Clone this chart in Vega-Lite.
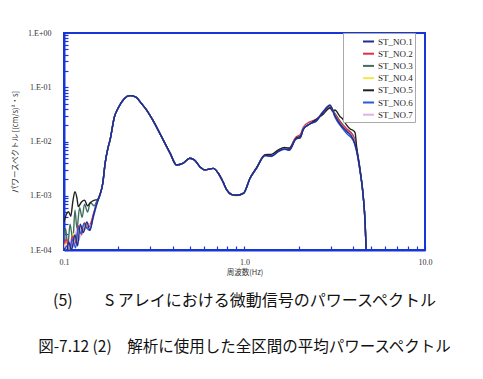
{
"$schema": "https://vega.github.io/schema/vega-lite/v6.json",
"autosize": {"type": "none"},
"padding": {"left": 64, "top": 33, "right": 58, "bottom": 129},
"width": 361,
"height": 217,
"background": "white",
"title": {"text": "(5)　　S アレイにおける微動信号のパワースペクトル", "subtitle": "\u00a0\u00a0\u00a0\u00a0\u00a0\u00a0\u00a0\u00a0\u00a0図-7.12 (2)　解析に使用した全区間の平均パワースペクトル", "orient": "bottom", "anchor": "middle", "font": "Noto Sans CJK JP", "fontSize": 16, "fontWeight": "normal", "color": "#111", "subtitleFont": "Noto Sans CJK JP", "subtitleFontSize": 15.5, "subtitleColor": "#111", "subtitlePadding": 31, "offset": 17},
"datasets": {
"spec": [
{"s":"ST_NO.3","f":0.1,"p":1.5e-4},{"s":"ST_NO.3","f":0.102,"p":2.5e-4},{"s":"ST_NO.3","f":0.105,"p":1.2e-4},{"s":"ST_NO.3","f":0.108,"p":3.0e-4},{"s":"ST_NO.3","f":0.112,"p":1.5e-4},{"s":"ST_NO.3","f":0.115,"p":5.4e-4},{"s":"ST_NO.3","f":0.118,"p":2.5e-4},{"s":"ST_NO.3","f":0.122,"p":6.0e-4},{"s":"ST_NO.3","f":0.126,"p":4.0e-4},{"s":"ST_NO.3","f":0.13,"p":7.0e-4},{"s":"ST_NO.3","f":0.135,"p":5.0e-4},{"s":"ST_NO.3","f":0.14,"p":7.5e-4},{"s":"ST_NO.3","f":0.147,"p":6.5e-4},{"s":"ST_NO.3","f":0.152,"p":8.0e-4},
{"s":"ST_NO.3","f":0.158,"p":1.03e-3},{"s":"ST_NO.3","f":0.164,"p":1.7e-3},{"s":"ST_NO.3","f":0.169,"p":4.0e-3},{"s":"ST_NO.3","f":0.175,"p":7.5e-3},{"s":"ST_NO.3","f":0.18,"p":1.07e-2},{"s":"ST_NO.3","f":0.19,"p":2.8e-2},{"s":"ST_NO.3","f":0.2,"p":4.2e-2},{"s":"ST_NO.3","f":0.215,"p":6.1e-2},{"s":"ST_NO.3","f":0.232,"p":7.0e-2},{"s":"ST_NO.3","f":0.25,"p":6.6e-2},{"s":"ST_NO.3","f":0.27,"p":4.9e-2},{"s":"ST_NO.3","f":0.287,"p":3.8e-2},{"s":"ST_NO.3","f":0.31,"p":2.5e-2},{"s":"ST_NO.3","f":0.34,"p":1.4e-2},{"s":"ST_NO.3","f":0.387,"p":6.1e-3},{"s":"ST_NO.3","f":0.42,"p":3.7e-3},{"s":"ST_NO.3","f":0.458,"p":4.0e-3},{"s":"ST_NO.3","f":0.498,"p":4.9e-3},{"s":"ST_NO.3","f":0.53,"p":4.5e-3},{"s":"ST_NO.3","f":0.567,"p":3.4e-3},{"s":"ST_NO.3","f":0.605,"p":3.0e-3},{"s":"ST_NO.3","f":0.671,"p":3.2e-3},{"s":"ST_NO.3","f":0.716,"p":2.6e-3},{"s":"ST_NO.3","f":0.76,"p":1.8e-3},{"s":"ST_NO.3","f":0.797,"p":1.28e-3},{"s":"ST_NO.3","f":0.85,"p":1.05e-3},{"s":"ST_NO.3","f":0.905,"p":1.02e-3},{"s":"ST_NO.3","f":0.99,"p":1.12e-3},{"s":"ST_NO.3","f":1.073,"p":2.1e-3},{"s":"ST_NO.3","f":1.165,"p":3.2e-3},{"s":"ST_NO.3","f":1.3,"p":5.6e-3},{"s":"ST_NO.3","f":1.41,"p":5.6e-3},{"s":"ST_NO.3","f":1.54,"p":6.8e-3},{"s":"ST_NO.3","f":1.666,"p":7.5e-3},{"s":"ST_NO.3","f":1.77,"p":7.2e-3},{"s":"ST_NO.3","f":1.924,"p":1.15e-2},{"s":"ST_NO.3","f":2.04,"p":1.22e-2},{"s":"ST_NO.3","f":2.12,"p":1.75e-2},{"s":"ST_NO.3","f":2.3,"p":2.17e-2},{"s":"ST_NO.3","f":2.51,"p":2.5e-2},{"s":"ST_NO.3","f":2.73,"p":3.55e-2},{"s":"ST_NO.3","f":2.98,"p":4.3e-2},{"s":"ST_NO.3","f":3.17,"p":3.3e-2},{"s":"ST_NO.3","f":3.38,"p":2.4e-2},{"s":"ST_NO.3","f":3.68,"p":1.7e-2},{"s":"ST_NO.3","f":4.0,"p":1.3e-2},{"s":"ST_NO.3","f":4.18,"p":7e-3},{"s":"ST_NO.3","f":4.36,"p":3e-3},{"s":"ST_NO.3","f":4.55,"p":9.6e-4},{"s":"ST_NO.3","f":4.66,"p":3.1e-4},{"s":"ST_NO.3","f":4.72,"p":1e-4},{"s":"ST_NO.3","f":4.75,"p":5e-5},
{"s":"ST_NO.4","f":0.1,"p":1.0e-4},{"s":"ST_NO.4","f":0.104,"p":1.4e-4},{"s":"ST_NO.4","f":0.108,"p":1.0e-4},{"s":"ST_NO.4","f":0.113,"p":2.0e-4},{"s":"ST_NO.4","f":0.118,"p":1.4e-4},{"s":"ST_NO.4","f":0.122,"p":2.7e-4},{"s":"ST_NO.4","f":0.127,"p":2.2e-4},{"s":"ST_NO.4","f":0.132,"p":3.0e-4},{"s":"ST_NO.4","f":0.137,"p":2.7e-4},{"s":"ST_NO.4","f":0.142,"p":3.3e-4},{"s":"ST_NO.4","f":0.148,"p":5.0e-4},{"s":"ST_NO.4","f":0.153,"p":7.7e-4},
{"s":"ST_NO.4","f":0.158,"p":1.03e-3},{"s":"ST_NO.4","f":0.164,"p":1.7e-3},{"s":"ST_NO.4","f":0.169,"p":4.0e-3},{"s":"ST_NO.4","f":0.175,"p":7.5e-3},{"s":"ST_NO.4","f":0.18,"p":1.07e-2},{"s":"ST_NO.4","f":0.19,"p":2.8e-2},{"s":"ST_NO.4","f":0.2,"p":4.2e-2},{"s":"ST_NO.4","f":0.215,"p":6.1e-2},{"s":"ST_NO.4","f":0.232,"p":7.0e-2},{"s":"ST_NO.4","f":0.25,"p":6.6e-2},{"s":"ST_NO.4","f":0.27,"p":4.9e-2},{"s":"ST_NO.4","f":0.287,"p":3.8e-2},{"s":"ST_NO.4","f":0.31,"p":2.5e-2},{"s":"ST_NO.4","f":0.34,"p":1.4e-2},{"s":"ST_NO.4","f":0.387,"p":6.1e-3},{"s":"ST_NO.4","f":0.42,"p":3.7e-3},{"s":"ST_NO.4","f":0.458,"p":4.0e-3},{"s":"ST_NO.4","f":0.498,"p":4.9e-3},{"s":"ST_NO.4","f":0.53,"p":4.5e-3},{"s":"ST_NO.4","f":0.567,"p":3.4e-3},{"s":"ST_NO.4","f":0.605,"p":3.0e-3},{"s":"ST_NO.4","f":0.671,"p":3.2e-3},{"s":"ST_NO.4","f":0.716,"p":2.6e-3},{"s":"ST_NO.4","f":0.76,"p":1.8e-3},{"s":"ST_NO.4","f":0.797,"p":1.28e-3},{"s":"ST_NO.4","f":0.85,"p":1.05e-3},{"s":"ST_NO.4","f":0.905,"p":1.0e-3},{"s":"ST_NO.4","f":0.99,"p":1.12e-3},{"s":"ST_NO.4","f":1.073,"p":2.1e-3},{"s":"ST_NO.4","f":1.165,"p":3.2e-3},{"s":"ST_NO.4","f":1.3,"p":5.6e-3},{"s":"ST_NO.4","f":1.41,"p":5.6e-3},{"s":"ST_NO.4","f":1.54,"p":6.8e-3},{"s":"ST_NO.4","f":1.666,"p":7.5e-3},{"s":"ST_NO.4","f":1.77,"p":7.2e-3},{"s":"ST_NO.4","f":1.924,"p":1.15e-2},{"s":"ST_NO.4","f":2.04,"p":1.22e-2},{"s":"ST_NO.4","f":2.12,"p":1.75e-2},{"s":"ST_NO.4","f":2.3,"p":2.17e-2},{"s":"ST_NO.4","f":2.51,"p":2.5e-2},{"s":"ST_NO.4","f":2.73,"p":3.55e-2},{"s":"ST_NO.4","f":2.98,"p":4.4e-2},{"s":"ST_NO.4","f":3.17,"p":3.1e-2},{"s":"ST_NO.4","f":3.38,"p":2.2e-2},{"s":"ST_NO.4","f":3.68,"p":1.63e-2},{"s":"ST_NO.4","f":4.0,"p":1.2e-2},{"s":"ST_NO.4","f":4.18,"p":7e-3},{"s":"ST_NO.4","f":4.36,"p":3e-3},{"s":"ST_NO.4","f":4.55,"p":9.6e-4},{"s":"ST_NO.4","f":4.66,"p":3.1e-4},{"s":"ST_NO.4","f":4.72,"p":1e-4},{"s":"ST_NO.4","f":4.75,"p":5e-5},
{"s":"ST_NO.2","f":0.1,"p":1.2e-4},{"s":"ST_NO.2","f":0.103,"p":1.6e-4},{"s":"ST_NO.2","f":0.107,"p":9e-5},{"s":"ST_NO.2","f":0.111,"p":1.8e-4},{"s":"ST_NO.2","f":0.115,"p":1.3e-4},{"s":"ST_NO.2","f":0.12,"p":2.8e-4},{"s":"ST_NO.2","f":0.125,"p":1.9e-4},{"s":"ST_NO.2","f":0.13,"p":3.2e-4},{"s":"ST_NO.2","f":0.135,"p":2.6e-4},{"s":"ST_NO.2","f":0.14,"p":3.0e-4},{"s":"ST_NO.2","f":0.146,"p":4.8e-4},{"s":"ST_NO.2","f":0.153,"p":7.8e-4},
{"s":"ST_NO.2","f":0.158,"p":1.03e-3},{"s":"ST_NO.2","f":0.164,"p":1.7e-3},{"s":"ST_NO.2","f":0.169,"p":4.0e-3},{"s":"ST_NO.2","f":0.175,"p":7.5e-3},{"s":"ST_NO.2","f":0.18,"p":1.07e-2},{"s":"ST_NO.2","f":0.19,"p":2.8e-2},{"s":"ST_NO.2","f":0.2,"p":4.2e-2},{"s":"ST_NO.2","f":0.215,"p":6.1e-2},{"s":"ST_NO.2","f":0.232,"p":7.0e-2},{"s":"ST_NO.2","f":0.25,"p":6.6e-2},{"s":"ST_NO.2","f":0.27,"p":4.9e-2},{"s":"ST_NO.2","f":0.287,"p":3.8e-2},{"s":"ST_NO.2","f":0.31,"p":2.5e-2},{"s":"ST_NO.2","f":0.34,"p":1.4e-2},{"s":"ST_NO.2","f":0.387,"p":6.1e-3},{"s":"ST_NO.2","f":0.42,"p":3.7e-3},{"s":"ST_NO.2","f":0.458,"p":4.0e-3},{"s":"ST_NO.2","f":0.498,"p":4.9e-3},{"s":"ST_NO.2","f":0.53,"p":4.5e-3},{"s":"ST_NO.2","f":0.567,"p":3.4e-3},{"s":"ST_NO.2","f":0.605,"p":3.0e-3},{"s":"ST_NO.2","f":0.671,"p":3.2e-3},{"s":"ST_NO.2","f":0.716,"p":2.6e-3},{"s":"ST_NO.2","f":0.76,"p":1.8e-3},{"s":"ST_NO.2","f":0.797,"p":1.28e-3},{"s":"ST_NO.2","f":0.85,"p":1.05e-3},{"s":"ST_NO.2","f":0.905,"p":1.02e-3},{"s":"ST_NO.2","f":0.99,"p":1.12e-3},{"s":"ST_NO.2","f":1.073,"p":2.1e-3},{"s":"ST_NO.2","f":1.165,"p":3.2e-3},{"s":"ST_NO.2","f":1.3,"p":5.6e-3},{"s":"ST_NO.2","f":1.41,"p":5.6e-3},{"s":"ST_NO.2","f":1.54,"p":6.8e-3},{"s":"ST_NO.2","f":1.666,"p":7.6e-3},{"s":"ST_NO.2","f":1.77,"p":7.6e-3},{"s":"ST_NO.2","f":1.924,"p":1.2e-2},{"s":"ST_NO.2","f":2.04,"p":1.35e-2},{"s":"ST_NO.2","f":2.12,"p":1.85e-2},{"s":"ST_NO.2","f":2.3,"p":2.3e-2},{"s":"ST_NO.2","f":2.51,"p":2.6e-2},{"s":"ST_NO.2","f":2.73,"p":3.5e-2},{"s":"ST_NO.2","f":2.98,"p":4.1e-2},{"s":"ST_NO.2","f":3.17,"p":3.2e-2},{"s":"ST_NO.2","f":3.38,"p":2.3e-2},{"s":"ST_NO.2","f":3.68,"p":1.7e-2},{"s":"ST_NO.2","f":4.0,"p":1.25e-2},{"s":"ST_NO.2","f":4.18,"p":7.5e-3},{"s":"ST_NO.2","f":4.36,"p":3.1e-3},{"s":"ST_NO.2","f":4.55,"p":9.6e-4},{"s":"ST_NO.2","f":4.66,"p":3.1e-4},{"s":"ST_NO.2","f":4.72,"p":1e-4},{"s":"ST_NO.2","f":4.75,"p":5e-5},
{"s":"ST_NO.7","f":0.1,"p":1.3e-4},{"s":"ST_NO.7","f":0.104,"p":9e-5},{"s":"ST_NO.7","f":0.108,"p":1.5e-4},{"s":"ST_NO.7","f":0.112,"p":1.1e-4},{"s":"ST_NO.7","f":0.117,"p":2.2e-4},{"s":"ST_NO.7","f":0.121,"p":1.5e-4},{"s":"ST_NO.7","f":0.126,"p":2.8e-4},{"s":"ST_NO.7","f":0.131,"p":2.4e-4},{"s":"ST_NO.7","f":0.136,"p":3.1e-4},{"s":"ST_NO.7","f":0.141,"p":2.8e-4},{"s":"ST_NO.7","f":0.147,"p":4.5e-4},{"s":"ST_NO.7","f":0.153,"p":7.6e-4},
{"s":"ST_NO.7","f":0.158,"p":1.03e-3},{"s":"ST_NO.7","f":0.164,"p":1.7e-3},{"s":"ST_NO.7","f":0.169,"p":4.0e-3},{"s":"ST_NO.7","f":0.175,"p":7.5e-3},{"s":"ST_NO.7","f":0.18,"p":1.07e-2},{"s":"ST_NO.7","f":0.19,"p":2.8e-2},{"s":"ST_NO.7","f":0.2,"p":4.2e-2},{"s":"ST_NO.7","f":0.215,"p":6.1e-2},{"s":"ST_NO.7","f":0.232,"p":7.0e-2},{"s":"ST_NO.7","f":0.25,"p":6.6e-2},{"s":"ST_NO.7","f":0.27,"p":4.9e-2},{"s":"ST_NO.7","f":0.287,"p":3.8e-2},{"s":"ST_NO.7","f":0.31,"p":2.5e-2},{"s":"ST_NO.7","f":0.34,"p":1.4e-2},{"s":"ST_NO.7","f":0.387,"p":6.1e-3},{"s":"ST_NO.7","f":0.42,"p":3.7e-3},{"s":"ST_NO.7","f":0.458,"p":4.0e-3},{"s":"ST_NO.7","f":0.498,"p":4.9e-3},{"s":"ST_NO.7","f":0.53,"p":4.5e-3},{"s":"ST_NO.7","f":0.567,"p":3.4e-3},{"s":"ST_NO.7","f":0.605,"p":3.0e-3},{"s":"ST_NO.7","f":0.671,"p":3.2e-3},{"s":"ST_NO.7","f":0.716,"p":2.6e-3},{"s":"ST_NO.7","f":0.76,"p":1.8e-3},{"s":"ST_NO.7","f":0.797,"p":1.28e-3},{"s":"ST_NO.7","f":0.85,"p":1.05e-3},{"s":"ST_NO.7","f":0.905,"p":1.02e-3},{"s":"ST_NO.7","f":0.99,"p":1.12e-3},{"s":"ST_NO.7","f":1.073,"p":2.1e-3},{"s":"ST_NO.7","f":1.165,"p":3.2e-3},{"s":"ST_NO.7","f":1.3,"p":5.6e-3},{"s":"ST_NO.7","f":1.41,"p":5.6e-3},{"s":"ST_NO.7","f":1.54,"p":6.8e-3},{"s":"ST_NO.7","f":1.666,"p":7.5e-3},{"s":"ST_NO.7","f":1.77,"p":7.2e-3},{"s":"ST_NO.7","f":1.924,"p":1.15e-2},{"s":"ST_NO.7","f":2.04,"p":1.22e-2},{"s":"ST_NO.7","f":2.12,"p":1.75e-2},{"s":"ST_NO.7","f":2.3,"p":2.17e-2},{"s":"ST_NO.7","f":2.51,"p":2.5e-2},{"s":"ST_NO.7","f":2.73,"p":3.55e-2},{"s":"ST_NO.7","f":2.98,"p":4.5e-2},{"s":"ST_NO.7","f":3.17,"p":3.0e-2},{"s":"ST_NO.7","f":3.38,"p":2.1e-2},{"s":"ST_NO.7","f":3.68,"p":1.55e-2},{"s":"ST_NO.7","f":4.0,"p":1.15e-2},{"s":"ST_NO.7","f":4.18,"p":7e-3},{"s":"ST_NO.7","f":4.36,"p":3e-3},{"s":"ST_NO.7","f":4.55,"p":9.6e-4},{"s":"ST_NO.7","f":4.66,"p":3.1e-4},{"s":"ST_NO.7","f":4.72,"p":1e-4},{"s":"ST_NO.7","f":4.75,"p":5e-5},
{"s":"ST_NO.5","f":0.1,"p":3.3e-4},{"s":"ST_NO.5","f":0.103,"p":4.5e-4},{"s":"ST_NO.5","f":0.106,"p":5.1e-4},{"s":"ST_NO.5","f":0.109,"p":4.2e-4},{"s":"ST_NO.5","f":0.112,"p":8.0e-4},{"s":"ST_NO.5","f":0.115,"p":1.19e-3},{"s":"ST_NO.5","f":0.118,"p":9.0e-4},{"s":"ST_NO.5","f":0.12,"p":6.3e-4},{"s":"ST_NO.5","f":0.125,"p":7.7e-4},{"s":"ST_NO.5","f":0.13,"p":8.3e-4},{"s":"ST_NO.5","f":0.135,"p":6.5e-4},{"s":"ST_NO.5","f":0.139,"p":7.3e-4},{"s":"ST_NO.5","f":0.144,"p":8.0e-4},{"s":"ST_NO.5","f":0.148,"p":8.3e-4},{"s":"ST_NO.5","f":0.153,"p":8.5e-4},
{"s":"ST_NO.5","f":0.158,"p":1.03e-3},{"s":"ST_NO.5","f":0.164,"p":1.7e-3},{"s":"ST_NO.5","f":0.169,"p":4.0e-3},{"s":"ST_NO.5","f":0.175,"p":7.5e-3},{"s":"ST_NO.5","f":0.18,"p":1.07e-2},{"s":"ST_NO.5","f":0.19,"p":2.8e-2},{"s":"ST_NO.5","f":0.2,"p":4.2e-2},{"s":"ST_NO.5","f":0.215,"p":6.1e-2},{"s":"ST_NO.5","f":0.232,"p":7.0e-2},{"s":"ST_NO.5","f":0.25,"p":6.6e-2},{"s":"ST_NO.5","f":0.27,"p":4.9e-2},{"s":"ST_NO.5","f":0.287,"p":3.8e-2},{"s":"ST_NO.5","f":0.31,"p":2.5e-2},{"s":"ST_NO.5","f":0.34,"p":1.4e-2},{"s":"ST_NO.5","f":0.387,"p":6.1e-3},{"s":"ST_NO.5","f":0.42,"p":3.7e-3},{"s":"ST_NO.5","f":0.458,"p":4.0e-3},{"s":"ST_NO.5","f":0.498,"p":4.9e-3},{"s":"ST_NO.5","f":0.53,"p":4.5e-3},{"s":"ST_NO.5","f":0.567,"p":3.4e-3},{"s":"ST_NO.5","f":0.605,"p":3.0e-3},{"s":"ST_NO.5","f":0.671,"p":3.2e-3},{"s":"ST_NO.5","f":0.716,"p":2.6e-3},{"s":"ST_NO.5","f":0.76,"p":1.8e-3},{"s":"ST_NO.5","f":0.797,"p":1.28e-3},{"s":"ST_NO.5","f":0.85,"p":1.05e-3},{"s":"ST_NO.5","f":0.905,"p":1.02e-3},{"s":"ST_NO.5","f":0.99,"p":1.12e-3},{"s":"ST_NO.5","f":1.073,"p":2.1e-3},{"s":"ST_NO.5","f":1.165,"p":3.3e-3},{"s":"ST_NO.5","f":1.3,"p":5.7e-3},{"s":"ST_NO.5","f":1.41,"p":5.8e-3},{"s":"ST_NO.5","f":1.54,"p":7.0e-3},{"s":"ST_NO.5","f":1.666,"p":7.8e-3},{"s":"ST_NO.5","f":1.77,"p":7.5e-3},{"s":"ST_NO.5","f":1.924,"p":1.15e-2},{"s":"ST_NO.5","f":2.04,"p":1.25e-2},{"s":"ST_NO.5","f":2.12,"p":1.7e-2},{"s":"ST_NO.5","f":2.3,"p":2.1e-2},{"s":"ST_NO.5","f":2.51,"p":2.6e-2},{"s":"ST_NO.5","f":2.73,"p":3.2e-2},{"s":"ST_NO.5","f":2.98,"p":4.2e-2},{"s":"ST_NO.5","f":3.08,"p":3.6e-2},{"s":"ST_NO.5","f":3.17,"p":3.8e-2},{"s":"ST_NO.5","f":3.38,"p":2.9e-2},{"s":"ST_NO.5","f":3.5,"p":2.6e-2},{"s":"ST_NO.5","f":3.68,"p":2.0e-2},{"s":"ST_NO.5","f":3.85,"p":1.7e-2},{"s":"ST_NO.5","f":4.0,"p":1.6e-2},{"s":"ST_NO.5","f":4.1,"p":1.45e-2},{"s":"ST_NO.5","f":4.18,"p":8e-3},{"s":"ST_NO.5","f":4.36,"p":3.2e-3},{"s":"ST_NO.5","f":4.55,"p":9.6e-4},{"s":"ST_NO.5","f":4.66,"p":3.1e-4},{"s":"ST_NO.5","f":4.72,"p":1e-4},{"s":"ST_NO.5","f":4.75,"p":5e-5},
{"s":"ST_NO.6","f":0.1,"p":9e-5},{"s":"ST_NO.6","f":0.104,"p":1.2e-4},{"s":"ST_NO.6","f":0.107,"p":8e-5},{"s":"ST_NO.6","f":0.111,"p":1.6e-4},{"s":"ST_NO.6","f":0.116,"p":1.1e-4},{"s":"ST_NO.6","f":0.12,"p":2.6e-4},{"s":"ST_NO.6","f":0.124,"p":2.0e-4},{"s":"ST_NO.6","f":0.129,"p":3.1e-4},{"s":"ST_NO.6","f":0.134,"p":2.5e-4},{"s":"ST_NO.6","f":0.139,"p":2.3e-4},{"s":"ST_NO.6","f":0.145,"p":4.2e-4},{"s":"ST_NO.6","f":0.152,"p":7.5e-4},
{"s":"ST_NO.6","f":0.158,"p":1.03e-3},{"s":"ST_NO.6","f":0.164,"p":1.7e-3},{"s":"ST_NO.6","f":0.169,"p":4.0e-3},{"s":"ST_NO.6","f":0.175,"p":7.5e-3},{"s":"ST_NO.6","f":0.18,"p":1.07e-2},{"s":"ST_NO.6","f":0.19,"p":2.8e-2},{"s":"ST_NO.6","f":0.2,"p":4.2e-2},{"s":"ST_NO.6","f":0.215,"p":6.1e-2},{"s":"ST_NO.6","f":0.232,"p":7.0e-2},{"s":"ST_NO.6","f":0.25,"p":6.6e-2},{"s":"ST_NO.6","f":0.27,"p":4.9e-2},{"s":"ST_NO.6","f":0.287,"p":3.8e-2},{"s":"ST_NO.6","f":0.31,"p":2.5e-2},{"s":"ST_NO.6","f":0.34,"p":1.4e-2},{"s":"ST_NO.6","f":0.387,"p":6.1e-3},{"s":"ST_NO.6","f":0.42,"p":3.7e-3},{"s":"ST_NO.6","f":0.458,"p":4.0e-3},{"s":"ST_NO.6","f":0.498,"p":4.9e-3},{"s":"ST_NO.6","f":0.53,"p":4.5e-3},{"s":"ST_NO.6","f":0.567,"p":3.4e-3},{"s":"ST_NO.6","f":0.605,"p":3.0e-3},{"s":"ST_NO.6","f":0.671,"p":3.2e-3},{"s":"ST_NO.6","f":0.716,"p":2.6e-3},{"s":"ST_NO.6","f":0.76,"p":1.8e-3},{"s":"ST_NO.6","f":0.797,"p":1.28e-3},{"s":"ST_NO.6","f":0.85,"p":1.05e-3},{"s":"ST_NO.6","f":0.905,"p":1.02e-3},{"s":"ST_NO.6","f":0.99,"p":1.12e-3},{"s":"ST_NO.6","f":1.073,"p":2.1e-3},{"s":"ST_NO.6","f":1.165,"p":3.2e-3},{"s":"ST_NO.6","f":1.3,"p":5.5e-3},{"s":"ST_NO.6","f":1.41,"p":5.3e-3},{"s":"ST_NO.6","f":1.54,"p":6.5e-3},{"s":"ST_NO.6","f":1.666,"p":7.2e-3},{"s":"ST_NO.6","f":1.77,"p":6.9e-3},{"s":"ST_NO.6","f":1.924,"p":1.1e-2},{"s":"ST_NO.6","f":2.04,"p":1.18e-2},{"s":"ST_NO.6","f":2.12,"p":1.7e-2},{"s":"ST_NO.6","f":2.3,"p":2.1e-2},{"s":"ST_NO.6","f":2.51,"p":2.4e-2},{"s":"ST_NO.6","f":2.73,"p":3.6e-2},{"s":"ST_NO.6","f":2.98,"p":4.7e-2},{"s":"ST_NO.6","f":3.17,"p":2.8e-2},{"s":"ST_NO.6","f":3.38,"p":2.0e-2},{"s":"ST_NO.6","f":3.68,"p":1.4e-2},{"s":"ST_NO.6","f":4.0,"p":1.05e-2},{"s":"ST_NO.6","f":4.18,"p":6.5e-3},{"s":"ST_NO.6","f":4.36,"p":2.9e-3},{"s":"ST_NO.6","f":4.55,"p":9.6e-4},{"s":"ST_NO.6","f":4.66,"p":3.1e-4},{"s":"ST_NO.6","f":4.72,"p":1e-4},{"s":"ST_NO.6","f":4.75,"p":5e-5},
{"s":"ST_NO.1","f":0.1,"p":1.1e-4},{"s":"ST_NO.1","f":0.103,"p":8e-5},{"s":"ST_NO.1","f":0.106,"p":1.4e-4},{"s":"ST_NO.1","f":0.11,"p":1.0e-4},{"s":"ST_NO.1","f":0.115,"p":1.9e-4},{"s":"ST_NO.1","f":0.119,"p":1.2e-4},{"s":"ST_NO.1","f":0.123,"p":3.0e-4},{"s":"ST_NO.1","f":0.128,"p":2.1e-4},{"s":"ST_NO.1","f":0.134,"p":3.3e-4},{"s":"ST_NO.1","f":0.139,"p":2.3e-4},{"s":"ST_NO.1","f":0.145,"p":4.0e-4},{"s":"ST_NO.1","f":0.152,"p":7.0e-4},
{"s":"ST_NO.1","f":0.158,"p":1.03e-3},{"s":"ST_NO.1","f":0.164,"p":1.7e-3},{"s":"ST_NO.1","f":0.169,"p":4.0e-3},{"s":"ST_NO.1","f":0.175,"p":7.5e-3},{"s":"ST_NO.1","f":0.18,"p":1.07e-2},{"s":"ST_NO.1","f":0.19,"p":2.8e-2},{"s":"ST_NO.1","f":0.2,"p":4.2e-2},{"s":"ST_NO.1","f":0.215,"p":6.1e-2},{"s":"ST_NO.1","f":0.232,"p":7.0e-2},{"s":"ST_NO.1","f":0.25,"p":6.6e-2},{"s":"ST_NO.1","f":0.27,"p":4.9e-2},{"s":"ST_NO.1","f":0.287,"p":3.8e-2},{"s":"ST_NO.1","f":0.31,"p":2.5e-2},{"s":"ST_NO.1","f":0.34,"p":1.4e-2},{"s":"ST_NO.1","f":0.387,"p":6.1e-3},{"s":"ST_NO.1","f":0.42,"p":3.7e-3},{"s":"ST_NO.1","f":0.458,"p":4.0e-3},{"s":"ST_NO.1","f":0.498,"p":4.9e-3},{"s":"ST_NO.1","f":0.53,"p":4.5e-3},{"s":"ST_NO.1","f":0.567,"p":3.4e-3},{"s":"ST_NO.1","f":0.605,"p":3.0e-3},{"s":"ST_NO.1","f":0.671,"p":3.2e-3},{"s":"ST_NO.1","f":0.716,"p":2.6e-3},{"s":"ST_NO.1","f":0.76,"p":1.8e-3},{"s":"ST_NO.1","f":0.797,"p":1.28e-3},{"s":"ST_NO.1","f":0.85,"p":1.05e-3},{"s":"ST_NO.1","f":0.905,"p":1.02e-3},{"s":"ST_NO.1","f":0.99,"p":1.12e-3},{"s":"ST_NO.1","f":1.073,"p":2.1e-3},{"s":"ST_NO.1","f":1.165,"p":3.2e-3},{"s":"ST_NO.1","f":1.3,"p":5.5e-3},{"s":"ST_NO.1","f":1.41,"p":5.4e-3},{"s":"ST_NO.1","f":1.54,"p":6.6e-3},{"s":"ST_NO.1","f":1.666,"p":7.3e-3},{"s":"ST_NO.1","f":1.77,"p":7.0e-3},{"s":"ST_NO.1","f":1.924,"p":1.1e-2},{"s":"ST_NO.1","f":2.04,"p":1.18e-2},{"s":"ST_NO.1","f":2.12,"p":1.7e-2},{"s":"ST_NO.1","f":2.3,"p":2.1e-2},{"s":"ST_NO.1","f":2.51,"p":2.45e-2},{"s":"ST_NO.1","f":2.73,"p":3.5e-2},{"s":"ST_NO.1","f":2.98,"p":4.6e-2},{"s":"ST_NO.1","f":3.17,"p":3.0e-2},{"s":"ST_NO.1","f":3.38,"p":2.1e-2},{"s":"ST_NO.1","f":3.68,"p":1.55e-2},{"s":"ST_NO.1","f":4.0,"p":1.1e-2},{"s":"ST_NO.1","f":4.18,"p":6.8e-3},{"s":"ST_NO.1","f":4.36,"p":3e-3},{"s":"ST_NO.1","f":4.55,"p":9.6e-4},{"s":"ST_NO.1","f":4.66,"p":3.1e-4},{"s":"ST_NO.1","f":4.72,"p":1e-4},{"s":"ST_NO.1","f":4.75,"p":5e-5}
]},
"data": {"name": "spec"},
"mark": {"type": "line", "strokeWidth": 1.4, "clip": true, "interpolate": "monotone"},
"encoding": {
"x": {"field": "f", "type": "quantitative", "scale": {"type": "log", "domain": [0.1, 10], "nice": false},
 "axis": {"title": "周波数(Hz)", "values": [0.1,0.2,0.3,0.4,0.5,0.6,0.7,0.8,0.9,1,2,3,4,5,6,7,8,9,10],
  "labelExpr": "abs(log(datum.value)/LN10 - round(log(datum.value)/LN10)) < 0.001 ? format(datum.value, '.1f') : ''",
  "labelFlush": false, "labelOverlap": false}},
"y": {"field": "p", "type": "quantitative", "scale": {"type": "log", "domain": [0.0001, 1], "nice": false},
 "axis": {"title": "パワースペクトル [(cm/s)²・s]", "values": [0.0001,0.0002,0.0003,0.0004,0.0005,0.0006,0.0007,0.0008,0.0009,0.001,0.002,0.003,0.004,0.005,0.006,0.007,0.008,0.009,0.01,0.02,0.03,0.04,0.05,0.06,0.07,0.08,0.09,0.1,0.2,0.3,0.4,0.5,0.6,0.7,0.8,0.9,1],
  "labelExpr": "abs(log(datum.value)/LN10 - round(log(datum.value)/LN10)) < 0.001 ? '1.E' + (round(log(datum.value)/LN10) < 0 ? '-' : '+') + pad(abs(round(log(datum.value)/LN10)) + '', 2, '0', 'left') : ''",
  "labelFlush": false, "labelOverlap": false}},
"color": {"field": "s", "type": "nominal",
 "scale": {"domain": ["ST_NO.1","ST_NO.2","ST_NO.3","ST_NO.4","ST_NO.5","ST_NO.6","ST_NO.7"], "range": ["#1f2f8f","#e0304a","#3f6f5f","#f2e84a","#222222","#2a5ad8","#e0b0e8"]},
 "legend": {"title": null, "orient": "none", "legendX": 279, "legendY": 0, "symbolType": "stroke", "symbolStrokeWidth": 2, "symbolSize": 121, "labelFont": "Liberation Serif", "labelFontSize": 9, "labelColor": "#222", "rowPadding": 0.2, "padding": 2, "symbolOffset": 17, "labelOffset": 3, "strokeColor": "#aaaaaa", "fillColor": "white",
  "labelExpr": "datum.label + '\u00a0\u00a0\u00a0\u00a0'"}}
},
"config": {
 "view": {"stroke": "#1836d8", "strokeWidth": 2},
 "axis": {"grid": false, "domainColor": "#1836d8", "domainWidth": 2, "tickColor": "#1836d8", "tickSize": -4, "tickWidth": 1.2,
  "labelFont": "Liberation Serif", "labelFontSize": 8, "labelColor": "#333",
  "titleFont": "Noto Sans CJK JP", "titleFontSize": 7.5, "titleFontWeight": "normal", "titleColor": "#333"},
 "axisX": {"labelPadding": 12, "titlePadding": 2},
 "axisY": {"labelPadding": 17, "titlePadding": 8}
}
}
